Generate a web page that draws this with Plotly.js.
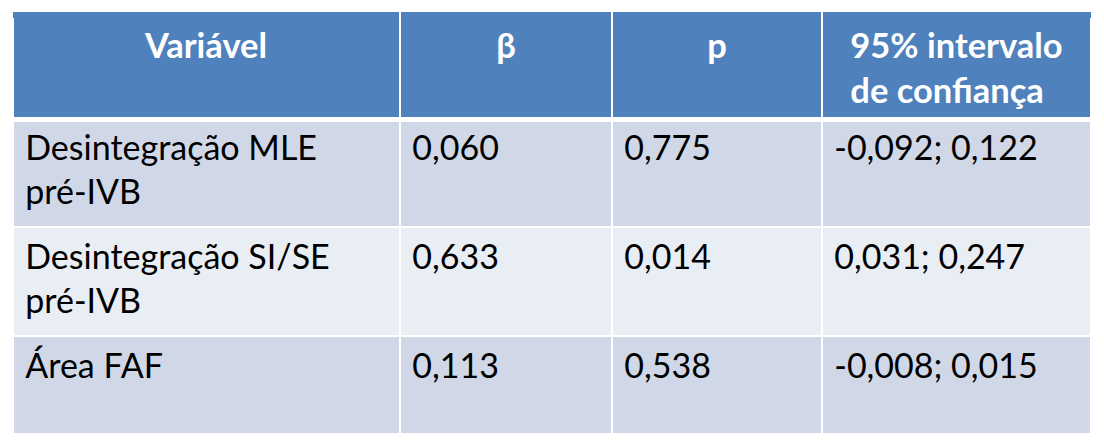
<!DOCTYPE html>
<html>
<head>
<meta charset="utf-8">
<script src="https://cdn.plot.ly/plotly-3.0.1.min.js"></script>
<style>
  html, body { margin: 0; padding: 0; background: #fff; }
  #chart { width: 1104px; height: 447px; }
</style>
</head>
<body>
<div id="chart"></div>
<script>
const headers = ["Variável", "β", "p", "95% intervalo<br>de confiança"];
const variables = ["Desintegração MLE<br>pré-IVB", "Desintegração SI/SE<br>pré-IVB", "Área FAF"];
const betas = ["0,060", "0,633", "0,113"];
const pValues = ["0,775", "0,014", "0,538"];
const intervals = ["-0,092; 0,122", "0,031; 0,247", "-0,008; 0,015"];

const rowColors = ["#D0D8E8", "#E9EDF4", "#D0D8E8"];
const headerColor = "#4F81BD";
const fontFamily = "Lato, 'Open Sans', sans-serif";

// page geometry in px
const W = 1104, H = 447;
const tblLeft = 13, tblRight = 1091, tblTop = 12, tblBottom = 433;
const headerShift = 4;           // push header text down a bit
const headerH = 101, rowH = 109;
const colW = [387, 212, 210, 269];

const py = v => 1 - v / H;
const px = v => v / W;
// plotly puts one-line cells higher than two-line ones; give every cell two lines
const twoLines = s => (s.includes("<br>") ? s : s + "<br>");
const pad = s => "\u2009" + twoLines(s).replace("<br>", "<br>\u2009");

const traceTop = tblTop + headerShift;
const traceBottom = traceTop + headerH + rowH * variables.length;

// column borders for the little header strip above the table
let acc = tblLeft;
const borders = colW.slice(0, -1).map(w => (acc += w));

const shapes = [
  { type: "rect", xref: "paper", yref: "paper", layer: "below",
    x0: px(tblLeft), x1: px(tblRight), y0: py(traceTop + 1), y1: py(tblTop),
    fillcolor: headerColor, line: { width: 0 } },
  // hide the table's own top border, it sits inside the header band
  { type: "rect", xref: "paper", yref: "paper", layer: "above",
    x0: px(tblLeft), x1: px(tblRight), y0: py(traceTop + 2), y1: py(traceTop - 1),
    fillcolor: headerColor, line: { width: 0 } },
  ...borders.map(b => ({
    type: "line", xref: "paper", yref: "paper", layer: "above",
    x0: px(b), x1: px(b), y0: py(traceTop + 3), y1: py(tblTop),
    line: { color: "#FFFFFF", width: 2 }
  })),
  { type: "line", xref: "paper", yref: "paper", layer: "above",
    x0: px(tblLeft), x1: px(tblRight), y0: py(119.5), y1: py(119.5),
    line: { color: "#FFFFFF", width: 5 } },
  { type: "rect", xref: "paper", yref: "paper", layer: "above",
    x0: 0, x1: 1, y0: 0, y1: py(tblBottom),
    fillcolor: "#FFFFFF", line: { width: 0 } }
];

Plotly.newPlot("chart", [{
  type: "table",
  domain: { x: [px(tblLeft), px(tblRight)], y: [py(traceBottom + 1), py(traceTop)] },
  columnwidth: colW,
  header: {
    values: headers.map(twoLines),
    align: "center",
    height: headerH,
    fill: { color: headerColor },
    line: { color: "#FFFFFF", width: 2 },
    font: { family: fontFamily, size: 34.5, color: "#FFFFFF", weight: "bold" }
  },
  cells: {
    values: [variables.map(pad), betas.map(pad), pValues.map(pad), intervals.map(pad)],
    align: "left",
    height: rowH,
    fill: { color: [rowColors, rowColors, rowColors, rowColors] },
    line: { color: "#FFFFFF", width: 2 },
    font: { family: fontFamily, size: 34, color: "#000000" }
  }
}], {
  width: W,
  height: H,
  margin: { l: 0, r: 0, t: 0, b: 0 },
  paper_bgcolor: "#FFFFFF",
  shapes: shapes
}, { displayModeBar: false, staticPlot: true });
</script>
</body>
</html>
